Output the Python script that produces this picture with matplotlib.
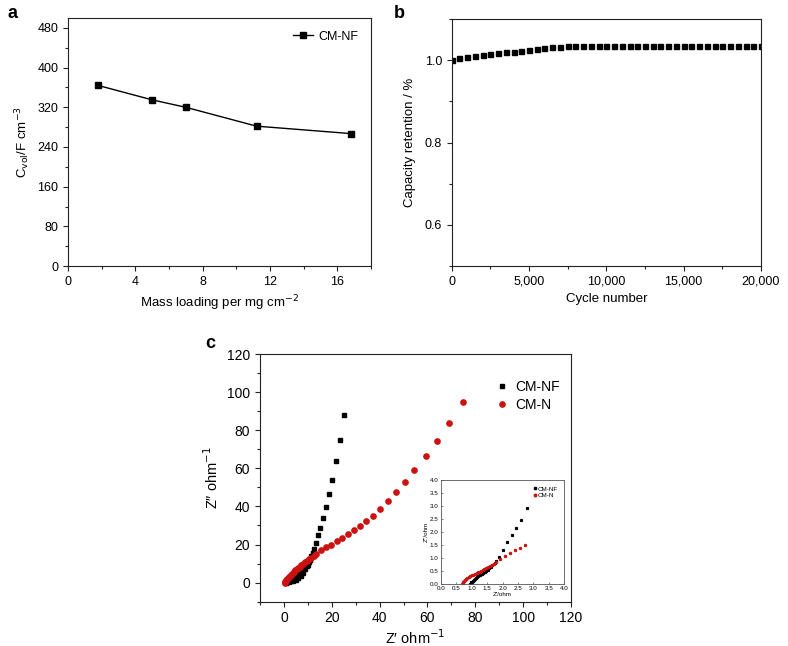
import matplotlib
matplotlib.use("Agg")
import matplotlib.pyplot as plt
from matplotlib.ticker import MultipleLocator, FuncFormatter

plt.rcParams['font.family'] = ['Liberation Sans', 'DejaVu Sans']
plt.rcParams['font.size'] = 9

# ---- Panel a data ----
mass_loading = [1.8, 5.0, 7.0, 11.2, 16.8]
cvol = [364, 335, 320, 282, 267]

# ---- Panel b data ----
cycles = [0, 500, 1000, 1500, 2000, 2500, 3000, 3500, 4000, 4500, 5000,
          5500, 6000, 6500, 7000, 7500, 8000, 8500, 9000, 9500, 10000,
          10500, 11000, 11500, 12000, 12500, 13000, 13500, 14000, 14500, 15000,
          15500, 16000, 16500, 17000, 17500, 18000, 18500, 19000, 19500, 20000]
retention = [1.000, 1.005, 1.008, 1.011, 1.013, 1.015, 1.017, 1.019, 1.021, 1.023, 1.025,
             1.027, 1.029, 1.031, 1.033, 1.035, 1.035, 1.035, 1.035, 1.035, 1.035,
             1.035, 1.035, 1.035, 1.035, 1.035, 1.035, 1.035, 1.035, 1.035, 1.035,
             1.035, 1.035, 1.035, 1.035, 1.035, 1.035, 1.035, 1.035, 1.035, 1.035]

# ---- Panel c data (main) ----
nf_zre = [0.9, 1.2, 1.5, 2.0, 2.5, 3.0, 3.5, 4.0, 4.5, 5.0, 5.5, 6.0, 6.5, 7.0,
          7.5, 8.0, 8.5, 9.0, 9.5, 10.0, 10.5, 11.0, 11.5, 12.0, 12.6,
          13.3, 14.1, 15.2, 16.2, 17.5, 18.7, 20.3, 21.8, 23.4, 25.2]
nf_zim = [0.0, 0.2, 0.8, 0.5, 1.8, 0.8, 2.7, 1.1, 3.6, 1.6, 4.5, 2.5, 5.5, 3.6,
          6.5, 5.0, 7.6, 6.9, 8.8, 9.2, 10.6, 12.1, 13.8, 15.5, 17.8,
          21.0, 24.8, 28.9, 33.9, 39.5, 46.3, 54.0, 63.7, 75.1, 88.2]
n_zre = [0.4, 0.5, 0.6, 0.8, 1.0, 1.3, 1.6, 2.0, 2.4, 2.8, 3.3, 3.8, 4.3, 4.8, 5.4,
         6.0, 6.6, 7.3, 8.0, 8.8, 9.6, 10.5, 11.5, 12.5, 13.6, 15.7, 17.6, 19.7,
         22.0, 24.2, 26.6, 29.1, 31.9, 34.5, 37.1, 40.3, 43.5, 46.9, 50.6, 54.5,
         59.2, 63.9, 69.2, 74.8]
n_zim = [0.0, 0.2, 0.5, 0.9, 1.3, 1.8, 2.3, 2.9, 3.4, 4.0, 4.6, 5.2, 5.8, 6.4, 7.0,
         7.7, 8.3, 9.0, 9.8, 10.6, 11.4, 12.2, 13.1, 14.0, 15.1, 17.0, 18.5, 20.0,
         21.6, 23.3, 25.3, 27.4, 29.6, 32.3, 35.1, 38.8, 42.6, 47.4, 52.6, 58.9,
         66.3, 74.6, 83.9, 94.9]

# ---- Panel c inset data ----
in_nf_zre = [0.95, 0.97, 0.99, 1.01, 1.04, 1.07, 1.10, 1.14, 1.18, 1.22, 1.27, 1.32,
             1.37, 1.42, 1.47, 1.52, 1.57, 1.62, 1.67, 1.74, 1.80, 1.87, 2.00, 2.16,
             2.30, 2.44, 2.60, 2.78]
in_nf_zim = [0.00, 0.03, 0.06, 0.09, 0.12, 0.15, 0.18, 0.22, 0.26, 0.30, 0.34, 0.38,
             0.42, 0.46, 0.50, 0.55, 0.60, 0.65, 0.72, 0.80, 0.90, 1.05, 1.30, 1.60,
             1.90, 2.15, 2.47, 2.91]
in_n_zre = [0.70, 0.71, 0.73, 0.75, 0.78, 0.82, 0.86, 0.91, 0.96, 1.01, 1.06, 1.11,
            1.16, 1.21, 1.26, 1.31, 1.36, 1.41, 1.46, 1.52, 1.58, 1.65, 1.72, 1.80,
            1.92, 2.08, 2.24, 2.40, 2.57, 2.73]
in_n_zim = [0.00, 0.04, 0.08, 0.12, 0.16, 0.20, 0.24, 0.27, 0.30, 0.33, 0.36, 0.39,
            0.42, 0.45, 0.48, 0.51, 0.54, 0.57, 0.60, 0.64, 0.68, 0.73, 0.78, 0.85,
            0.95, 1.08, 1.20, 1.30, 1.40, 1.50]

SPINE = '#222222'
RED = '#cc1111'

fig = plt.figure(figsize=(7.88, 6.46), dpi=100)


def style(ax, lw=0.8, tick_len=3.5, minor_len=2.0):
    for s in ax.spines.values():
        s.set_linewidth(lw)
        s.set_color(SPINE)
    ax.tick_params(which='major', direction='out', length=tick_len, width=lw,
                   color=SPINE, top=False, right=False)
    ax.tick_params(which='minor', direction='out', length=minor_len, width=lw,
                   color=SPINE, top=False, right=False)


# ---- Panel a ----
axa = fig.add_axes([0.0863, 0.5882, 0.3845, 0.3839])
axa.plot(mass_loading, cvol, '-', color='black', lw=1.0, marker='s', ms=3.8,
         label='CM-NF')
axa.set_xlim(0, 18)
axa.set_ylim(0, 500)
axa.xaxis.set_major_locator(MultipleLocator(4))
axa.xaxis.set_minor_locator(MultipleLocator(2))
axa.yaxis.set_major_locator(MultipleLocator(80))
axa.yaxis.set_minor_locator(MultipleLocator(40))
axa.set_yticks([0, 80, 160, 240, 320, 400, 480])
style(axa)
axa.set_xlabel('Mass loading per mg cm$^{-2}$', fontsize=9.5, labelpad=4)
axa.set_ylabel('C$_{\\mathrm{vol}}$/F cm$^{-3}$', fontsize=9.5, labelpad=4)
axa.tick_params(labelsize=9)
axa.legend(loc='upper right', frameon=False, fontsize=9, handlelength=1.6,
           handletextpad=0.4, borderaxespad=0.6)

# ---- Panel b ----
axb = fig.add_axes([0.5732, 0.5882, 0.3925, 0.3824])
axb.plot(cycles, retention, linestyle='none', marker='s', ms=3.6, color='black')
axb.set_xlim(0, 20000)
axb.set_ylim(0.5, 1.1)
axb.xaxis.set_major_locator(MultipleLocator(5000))
axb.xaxis.set_minor_locator(MultipleLocator(2500))
axb.set_yticks([0.6, 0.8, 1.0])
axb.yaxis.set_minor_locator(MultipleLocator(0.1))
axb.xaxis.set_major_formatter(FuncFormatter(lambda v, p: f'{int(v):,}'))
axb.yaxis.set_major_formatter(FuncFormatter(lambda v, p: f'{v:.1f}'))
style(axb)
axb.tick_params(labelsize=9)
axb.set_xlabel('Cycle number', fontsize=9.5, labelpad=4)
axb.set_ylabel('Capacity retention / %', fontsize=9.5, labelpad=6)

# ---- Panel c ----
axc = fig.add_axes([0.3299, 0.0686, 0.3947, 0.3834])
axc.plot(nf_zre, nf_zim, linestyle='none', marker='s', ms=3.4, color='black',
         label='CM-NF')
axc.plot(n_zre, n_zim, linestyle='none', marker='o', ms=3.8, color=RED,
         label='CM-N')
axc.set_xlim(-10, 120)
axc.set_ylim(-10, 120)
axc.xaxis.set_minor_locator(MultipleLocator(10))
axc.yaxis.set_minor_locator(MultipleLocator(10))
axc.set_xticks([0, 20, 40, 60, 80, 100, 120])
axc.set_yticks([0, 20, 40, 60, 80, 100, 120])
style(axc)
axc.tick_params(labelsize=10)
axc.set_xlabel('Z\u2032 ohm$^{-1}$', fontsize=10.5, labelpad=2)
axc.set_ylabel('Z\u2033 ohm$^{-1}$', fontsize=10.5, labelpad=4)
axc.legend(loc='upper right', bbox_to_anchor=(0.99, 0.93), frameon=False,
           fontsize=10, handlelength=0.8, handletextpad=0.5, labelspacing=0.3,
           borderaxespad=0.2)

# ---- Inset ----
axi = fig.add_axes([0.5593, 0.0960, 0.1569, 0.1610])
axi.plot(in_nf_zre, in_nf_zim, linestyle='none', marker='s', ms=1.3,
         color='black', label='CM-NF')
axi.plot(in_n_zre, in_n_zim, linestyle='none', marker='o', ms=1.5,
         color=RED, label='CM-N')
axi.set_xlim(0, 4)
axi.set_ylim(0, 4)
axi.xaxis.set_major_locator(MultipleLocator(0.5))
axi.yaxis.set_major_locator(MultipleLocator(0.5))
axi.xaxis.set_major_formatter(FuncFormatter(lambda v, p: f'{v:.1f}'))
axi.yaxis.set_major_formatter(FuncFormatter(lambda v, p: f'{v:.1f}'))
for s in axi.spines.values():
    s.set_linewidth(0.6)
    s.set_color('#555555')
axi.tick_params(direction='in', length=1.5, width=0.5, labelsize=4.5, pad=1.5,
                color='#555555')
axi.set_xlabel("Z'/ohm", fontsize=4.5, labelpad=0.5)
axi.set_ylabel("Z''/ohm", fontsize=4.5, labelpad=0.5)
axi.legend(loc='upper right', frameon=False, fontsize=4.5, handlelength=0.4,
           handletextpad=0.3, labelspacing=0.2, borderaxespad=0.6, markerscale=1.2)

# ---- Panel letters ----
fig.text(8 / 788, 1 - 13 / 646, 'a', fontsize=13, fontweight='bold',
         ha='left', va='center')
fig.text(394 / 788, 1 - 13 / 646, 'b', fontsize=13, fontweight='bold',
         ha='left', va='center')
fig.text(205 / 788, 1 - 343 / 646, 'c', fontsize=13, fontweight='bold',
         ha='left', va='center')

fig.savefig('out.png', dpi=100)
